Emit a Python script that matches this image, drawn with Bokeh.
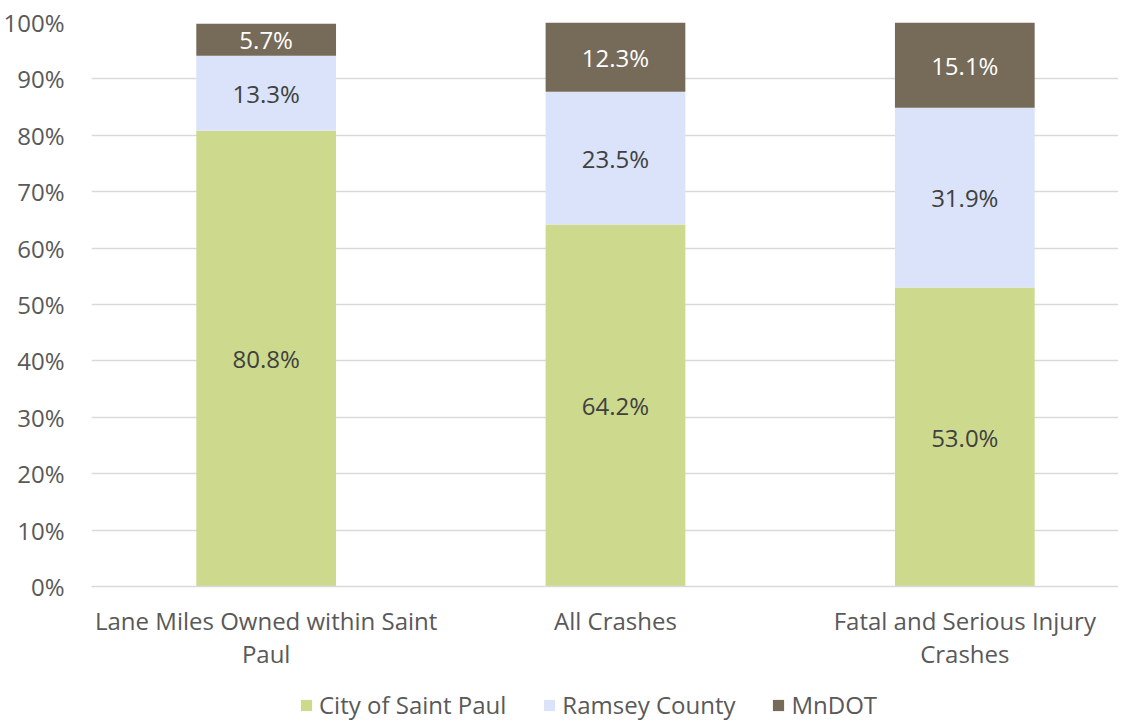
from bokeh.plotting import figure
from bokeh.models import (Range1d, FixedTicker, PrintfTickFormatter, Legend, LegendItem,
                          ColumnDataSource)
from bokeh.layouts import column
from bokeh.core.properties import value
from bokeh.embed import file_html
from bokeh.resources import INLINE

categories = ["Lane Miles Owned within Saint\nPaul", "All Crashes", "Fatal and Serious Injury\nCrashes"]
series_names = ["City of Saint Paul", "Ramsey County", "MnDOT"]
city = [80.8, 64.2, 53.0]
ramsey = [13.3, 23.5, 31.9]
mndot = [5.7, 12.3, 15.1]
y_ticks = [0, 10, 20, 30, 40, 50, 60, 70, 80, 90, 100]

colors = ["#CDDA8E", "#DAE3F9", "#766A59"]
label_colors = ["#404040", "#404040", "#FFFFFF"]
FONT = "Open Sans"
FS = "24px"

x = list(range(len(categories)))
p = figure(width=1118, height=687, output_backend="svg", toolbar_location=None,
           x_range=Range1d(-0.5, 2.44), y_range=Range1d(0, 100),
           min_border_left=84, min_border_right=0, min_border_top=22, min_border_bottom=101)
p.outline_line_color = None
p.background_fill_color = "white"

data = {"x": x, "city": city, "ramsey": ramsey, "mndot": mndot}
src = ColumnDataSource(data)
stack_cols = ["city", "ramsey", "mndot"]
rs = p.vbar_stack(stack_cols, x="x", width=0.4, source=src,
                  color=colors, line_color=None)

# data labels
series = [city, ramsey, mndot]
base = [0.0] * len(x)
for vals, col in zip(series, label_colors):
    mids = [b + v / 2 for b, v in zip(base, vals)]
    texts = ["%.1f%%" % v for v in vals]
    p.text(x=x, y=mids, text=texts, text_align="center", text_baseline="middle",
           text_font=value(FONT), text_font_size=FS, text_color=col)
    base = [b + v for b, v in zip(base, vals)]

# axes
p.xaxis.ticker = FixedTicker(ticks=x)
p.xaxis.major_label_overrides = {i: c for i, c in enumerate(categories)}
p.xaxis.axis_line_color = "#D9D9D9"
p.xaxis.axis_line_width = 1.3
p.xaxis.major_tick_line_color = None
p.xaxis.major_tick_out = 0
p.xaxis.major_tick_in = 0
p.xaxis.minor_tick_line_color = None
p.xaxis.major_label_text_font = FONT
p.xaxis.major_label_text_font_size = FS
p.xaxis.major_label_text_color = "#595959"
p.xaxis.major_label_text_line_height = 1.0
p.xaxis.major_label_standoff = 17

p.yaxis.ticker = FixedTicker(ticks=y_ticks)
p.yaxis.formatter = PrintfTickFormatter(format="%d%%")
p.yaxis.axis_line_color = None
p.yaxis.major_tick_line_color = None
p.yaxis.minor_tick_line_color = None
p.yaxis.major_label_text_font = FONT
p.yaxis.major_label_text_font_size = FS
p.yaxis.major_label_text_color = "#595959"
p.yaxis.major_label_standoff = 21

p.xgrid.grid_line_color = None
p.ygrid.grid_line_color = "#D9D9D9"
p.ygrid.grid_line_width = 1.3
p.ygrid.ticker = FixedTicker(ticks=y_ticks)

# legend strip below the chart (proxy bars are out of view; only the legend shows)
lg = figure(width=1118, height=35, output_backend="svg", toolbar_location=None,
            x_range=Range1d(-20, -19), y_range=Range1d(0, 1),
            x_axis_type=None, y_axis_type=None,
            min_border_left=0, min_border_right=0, min_border_top=0, min_border_bottom=0)
lg.outline_line_color = None
lg.xgrid.grid_line_color = None
lg.ygrid.grid_line_color = None
lrs = lg.vbar_stack(stack_cols, x="x", width=0.4, source=src, color=colors, line_color=None)
legend = Legend(items=[LegendItem(label=n, renderers=[r]) for n, r in zip(series_names, lrs)],
                orientation="horizontal", location=(208, 1), padding=0, margin=0,
                spacing=36, glyph_width=14, glyph_height=14, label_standoff=6,
                label_text_font=FONT, label_text_font_size=FS, label_text_color="#595959",
                border_line_color=None, background_fill_alpha=0, label_height=24)
lg.add_layout(legend, "center")

open("out.html", "w").write(file_html(column(p, lg, spacing=0), INLINE))
